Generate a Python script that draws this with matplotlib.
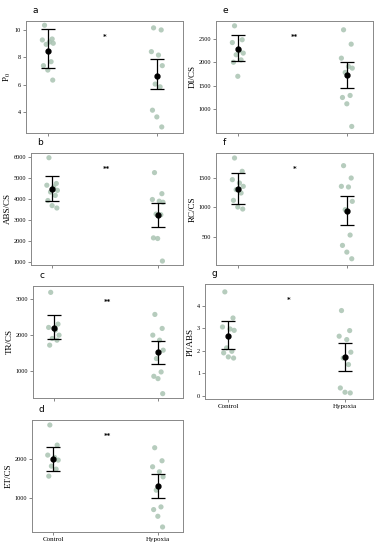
import matplotlib
matplotlib.use("Agg")
import matplotlib.pyplot as plt

# values
groups = ["Control", "Hypoxia"]

p0_ctrl = [10.34, 9.34, 9.27, 9.12, 9.03, 8.95, 7.69, 7.4, 7.08, 6.35]
p0_hyp = [10.15, 10.0, 8.42, 8.17, 7.4, 6.06, 5.86, 4.16, 3.67, 2.94]
p0_mean = [8.5, 6.68]
p0_lo = [7.25, 5.7]
p0_hi = [10.05, 7.9]

abs_ctrl = [5984, 4746, 4665, 4583, 4420, 4340, 4176, 3932, 3687, 3573]
abs_hyp = [5270, 4260, 3980, 3900, 3850, 3280, 3250, 2140, 2110, 1030]
abs_mean = [4500, 3250]
abs_lo = [3920, 2680]
abs_hi = [5100, 3830]

tr_ctrl = [3195, 2312, 2219, 2144, 2005, 1912, 1865, 1726]
tr_hyp = [2581, 2191, 2005, 1865, 1586, 1353, 981, 860, 795, 377]
tr_mean = [2209, 1530]
tr_lo = [1884, 1200]
tr_hi = [2553, 1850]

et_ctrl = [2863, 2350, 2094, 2034, 1966, 1812, 1735, 1556]
et_hyp = [2282, 1949, 1795, 1667, 1538, 1197, 769, 701, 530, 256]
et_mean = [1983, 1299]
et_lo = [1680, 1000]
et_hi = [2310, 1620]

di_ctrl = [2777, 2480, 2420, 2245, 2195, 2160, 2050, 2000, 1700]
di_hyp = [2692, 2386, 2087, 1910, 1874, 1782, 1291, 1248, 1113, 630]
di_mean = [2290, 1718]
di_lo = [2020, 1440]
di_hi = [2580, 2000]

rc_ctrl = [1831, 1607, 1466, 1410, 1354, 1298, 1242, 1118, 1006, 972]
rc_hyp = [1702, 1494, 1354, 1343, 1101, 961, 534, 360, 247, 135]
rc_mean = [1315, 944]
rc_lo = [1060, 700]
rc_hi = [1580, 1195]

pi_ctrl = [4.61, 3.45, 3.05, 2.96, 2.9, 2.12, 1.97, 1.9, 1.72, 1.67]
pi_hyp = [3.78, 2.89, 2.64, 2.49, 1.93, 1.67, 1.38, 0.34, 0.15, 0.12]
pi_mean = [2.67, 1.70]
pi_lo = [2.05, 1.10]
pi_hi = [3.30, 2.35]

# fixed horizontal spread for the dots
jitter = [-0.03, 0.04, -0.05, 0.015, 0.05, -0.015, 0.03, -0.04, 0.0, 0.045]

panels = [
    # letter, ylabel, ctrl, hyp, mean, lo, hi, stars, ylim, yticks, axes rect (px)
    ("a", "P$_0$", p0_ctrl, p0_hyp, p0_mean, p0_lo, p0_hi, "*", (2.5, 10.65), [4, 6, 8, 10], (26, 21, 183, 133)),
    ("b", "ABS/CS", abs_ctrl, abs_hyp, abs_mean, abs_lo, abs_hi, "**", (840, 6210), [1000, 2000, 3000, 4000, 5000, 6000], (31, 153, 183, 265)),
    ("c", "TR/CS", tr_ctrl, tr_hyp, tr_mean, tr_lo, tr_hi, "**", (256, 3372), [1000, 2000, 3000], (33, 286, 183, 398)),
    ("d", "ET/CS", et_ctrl, et_hyp, et_mean, et_lo, et_hi, "**", (128, 2991), [1000, 2000], (32, 420, 183, 532)),
    ("e", "DI/CS", di_ctrl, di_hyp, di_mean, di_lo, di_hi, "**", (490, 2880), [1000, 1500, 2000, 2500], (216, 21, 373, 133)),
    ("f", "RC/CS", rc_ctrl, rc_hyp, rc_mean, rc_lo, rc_hi, "*", (30, 1915), [500, 1000, 1500], (216, 153, 373, 265)),
    ("g", "PI/ABS", pi_ctrl, pi_hyp, pi_mean, pi_lo, pi_hi, "*", (-0.15, 4.96), [0, 1, 2, 3, 4], (205, 284, 373, 399)),
]

W, H = 380, 550
fig = plt.figure(figsize=(3.8, 5.5), dpi=100)
serif = ["Liberation Serif", "DejaVu Serif"]
plt.rcParams["mathtext.fontset"] = "stix"

for letter, ylab, ctrl, hyp, mean, lo, hi, stars, ylim, yticks, rect in panels:
    x0, y0, x1, y1 = rect
    ax = fig.add_axes([x0 / W, 1 - y1 / H, (x1 - x0) / W, (y1 - y0) / H])
    for xi, vals in zip([1, 2], [ctrl, hyp]):
        xs = [xi + jitter[k % len(jitter)] for k in range(len(vals))]
        ax.scatter(xs, vals, s=14, color="#a9c3b2", alpha=0.85, edgecolors="none", zorder=2)
    err = [[m - l for m, l in zip(mean, lo)], [h - m for m, h in zip(mean, hi)]]
    ax.errorbar([1, 2], mean, yerr=err, fmt="o", color="black", ms=3.5,
                elinewidth=0.9, capsize=5, capthick=0.9, zorder=3)
    ax.text(0.5, 0.86, stars, transform=ax.transAxes, ha="center", va="center",
            fontsize=5, fontweight="bold")
    ax.text(0.04, 1.05, letter, transform=ax.transAxes, ha="left", va="bottom",
            fontsize=6.5, family="DejaVu Sans")
    ax.set_xlim(0.8, 2.24)
    ax.set_ylim(*ylim)
    ax.set_yticks(yticks)
    ax.set_xticks([1, 2])
    if letter in ("d", "g"):
        ax.set_xticklabels(groups, family=serif, fontsize=5)
    else:
        ax.set_xticklabels(["", ""])
    ax.tick_params(axis="y", labelsize=4.5, length=2, width=0.5, pad=1.5, color="#555555")
    ax.tick_params(axis="x", length=2, width=0.5, pad=1.5, color="#555555")
    for lbl in ax.get_yticklabels():
        lbl.set_family(serif)
    ax.set_ylabel(ylab, family=serif, fontsize=6.5, labelpad=1.5)
    for sp in ax.spines.values():
        sp.set_color("#888888")
        sp.set_linewidth(0.7)

fig.savefig("out.png", dpi=100)
